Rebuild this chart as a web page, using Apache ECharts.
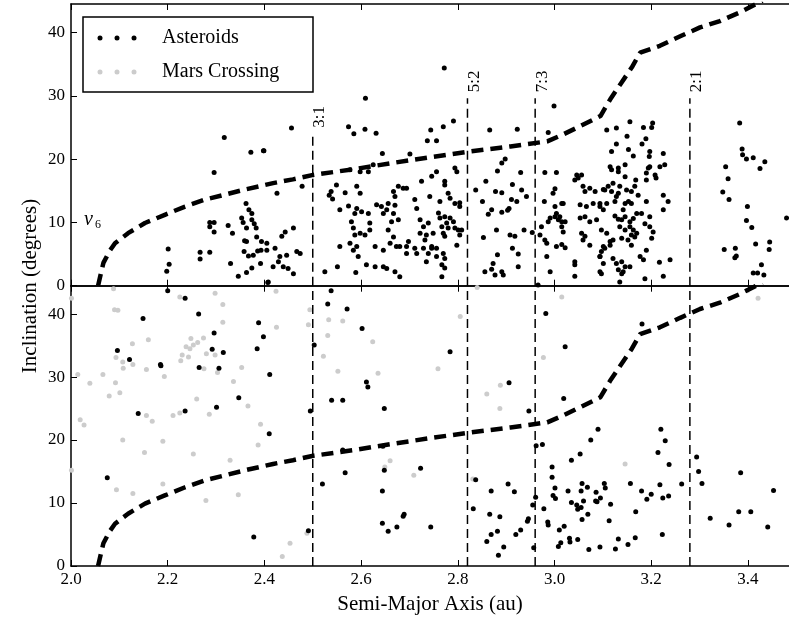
<!DOCTYPE html>
<html>
<head>
<meta charset="utf-8">
<script src="https://cdn.jsdelivr.net/npm/echarts@6/dist/echarts.min.js"></script>
<style>
  html, body { margin: 0; padding: 0; background: #fff; }
  #main { width: 789px; height: 626px; }
</style>
</head>
<body>
<div id="main"></div>
<script>
// semi-major axis (au), inclination (deg)
var topAsteroids = [
  [2.317,23.4],[2.372,21.1],[2.398,21.3],[2.296,17.9],[2.362,13.0],[2.368,12.0],[2.374,11.4],[2.353,10.7],[2.356,10.0],[2.374,10.4],
  [2.379,9.8],[2.363,9.1],[2.383,9.1],[2.384,7.7],[2.359,7.1],[2.363,7.0],[2.405,6.7],[2.358,5.4],[2.367,4.7],[2.377,4.8],
  [2.386,5.5],[2.393,5.6],[2.392,3.5],[2.374,2.8],[2.363,2.1],[2.346,1.5],[2.330,3.5],[2.287,10.0],[2.296,10.0],[2.296,8.5],
  [2.287,9.3],[2.325,9.5],[2.334,8.3],[2.267,5.3],[2.267,4.2],[2.287,5.3],[2.201,5.8],[2.203,3.4],[2.198,2.3],[2.407,0.5],
  [2.609,29.6],[2.456,24.9],[2.574,25.1],[2.585,24.0],[2.608,24.7],[2.631,24.1],[2.399,21.3],[2.644,20.9],[2.701,20.8],[2.744,24.6],
  [2.737,22.9],[2.598,18.0],[2.615,18.0],[2.625,19.1],[2.577,18.3],[2.478,15.7],[2.426,14.6],[2.538,14.9],[2.549,15.9],[2.534,14.3],
  [2.541,13.7],[2.567,14.7],[2.591,15.7],[2.598,14.6],[2.556,12.0],[2.574,12.6],[2.591,12.2],[2.587,11.4],[2.580,10.1],[2.601,11.7],
  [2.615,11.4],[2.584,9.1],[2.587,8.0],[2.598,8.3],[2.608,8.0],[2.618,9.9],[2.618,8.8],[2.556,6.2],[2.577,6.7],[2.584,5.6],
  [2.594,4.6],[2.591,6.2],[2.551,3.0],[2.525,2.2],[2.589,2.1],[2.611,3.3],[2.629,3.0],[2.646,3.0],[2.653,2.7],[2.670,2.2],
  [2.680,1.4],[2.629,6.2],[2.646,5.6],[2.632,12.8],[2.642,12.5],[2.653,12.0],[2.646,11.4],[2.656,13.0],[2.667,11.4],[2.670,12.7],
  [2.663,10.1],[2.677,10.4],[2.667,14.9],[2.670,14.1],[2.677,15.7],[2.687,15.4],[2.694,15.4],[2.656,8.8],[2.667,7.7],[2.660,6.7],
  [2.673,6.2],[2.680,6.2],[2.694,6.2],[2.698,7.0],[2.694,5.1],[2.711,13.6],[2.715,12.2],[2.725,16.5],[2.746,17.3],[2.742,14.1],
  [2.722,10.4],[2.729,9.3],[2.739,9.9],[2.722,8.3],[2.735,8.0],[2.732,7.2],[2.729,5.9],[2.739,5.1],[2.735,3.8],[2.746,5.9],
  [2.711,5.9],[2.715,5.1],[2.394,7.0],[2.422,5.9],[2.436,7.8],[2.443,8.5],[2.460,9.1],[2.432,4.6],[2.446,4.8],[2.429,3.8],
  [2.418,3.0],[2.439,3.0],[2.449,2.7],[2.460,1.9],[2.467,5.4],[2.474,5.1],[2.405,5.6],[2.408,0.6],
  [2.772,34.4],[2.999,28.4],[2.791,26.0],[2.770,25.1],[2.866,24.6],[2.923,24.7],[2.756,22.9],[2.987,24.2],[2.898,20.0],[2.891,19.4],
  [2.882,18.1],[2.794,18.6],[2.798,18.0],[2.756,18.0],[2.773,16.5],[2.773,15.9],[2.930,17.9],[2.858,16.5],[2.837,15.1],[2.878,14.9],
  [2.891,14.7],[2.913,16.0],[2.932,15.1],[2.942,14.1],[2.911,13.6],[2.922,13.3],[2.851,13.3],[2.870,12.0],[2.863,11.3],[2.906,12.2],
  [2.903,11.9],[2.891,11.6],[2.780,14.6],[2.784,13.8],[2.794,13.0],[2.804,13.1],[2.804,12.5],[2.763,13.3],[2.760,11.5],[2.763,10.7],
  [2.773,10.9],[2.784,10.7],[2.791,10.1],[2.777,9.9],[2.767,9.3],[2.780,9.1],[2.794,9.1],[2.801,8.8],[2.808,8.8],[2.804,8.0],
  [2.798,6.4],[2.770,8.3],[2.773,7.8],[2.749,8.3],[2.746,6.2],[2.756,5.9],[2.770,5.1],[2.773,4.3],[2.767,3.3],[2.773,2.8],
  [2.767,1.4],[2.756,4.6],[2.853,7.6],[2.880,8.8],[2.908,8.0],[2.918,7.8],[2.913,5.9],[2.937,8.8],[2.954,8.4],[2.882,4.9],
  [2.925,5.0],[2.925,3.0],[2.873,3.5],[2.870,2.6],[2.877,1.7],[2.856,2.2],[2.891,2.2],[2.894,1.7],[2.966,0.1],[2.980,17.9],
  [3.004,17.9],[3.001,15.3],[2.997,14.6],[2.979,13.3],[3.015,13.0],[3.018,13.0],[3.001,12.5],[3.004,11.4],[3.011,10.9],[3.001,10.9],
  [2.991,10.7],[2.987,10.1],[3.008,10.4],[3.015,10.1],[3.022,10.1],[3.015,9.3],[3.018,8.5],[2.973,9.3],[2.970,8.0],[2.980,7.2],
  [2.984,6.7],[3.004,6.2],[3.015,6.5],[3.022,6.0],[2.984,4.6],[2.991,2.2],[3.042,16.7],[3.049,17.0],[3.046,17.5],[3.056,17.5],
  [3.059,15.7],[3.063,14.9],[3.073,15.4],[3.084,14.9],[3.101,15.2],[3.053,12.8],[3.066,12.5],[3.080,13.0],[3.053,10.7],[3.063,10.9],
  [3.073,10.1],[3.087,10.4],[3.056,8.3],[3.063,7.8],[3.059,7.2],[3.073,6.4],[3.042,3.8],[3.042,3.3],[3.042,1.5],[3.094,4.6],
  [3.094,2.2],[3.097,1.9],[3.101,6.2],[3.097,5.4],[3.094,12.5],[3.101,12.0],
  [3.383,25.7],[3.388,21.6],[3.389,20.7],[3.397,20.0],[3.411,20.2],[3.435,19.6],[3.425,18.5],[3.354,18.8],[3.359,16.9],[3.348,14.8],
  [3.361,13.6],[3.480,10.7],[3.399,12.5],[3.397,10.3],[3.408,9.2],[3.416,6.6],[3.445,6.9],[3.444,5.7],[3.351,5.7],[3.374,5.9],
  [3.376,4.7],[3.373,4.4],[3.428,3.3],[3.411,2.0],[3.420,2.0],[3.433,1.7],[3.239,4.1],[3.225,1.5],[3.217,3.7],[3.187,1.1],
  [3.156,25.9],[3.184,25.0],[3.201,25.0],[3.203,25.7],[3.128,24.9],[3.108,24.6],[3.150,23.6],[3.181,22.4],[3.189,23.2],[3.128,22.4],
  [3.118,21.2],[3.153,21.5],[3.163,20.5],[3.197,21.2],[3.196,20.4],[3.225,20.9],[3.115,18.8],[3.118,18.3],[3.132,18.6],[3.132,18.0],
  [3.146,19.1],[3.146,17.2],[3.194,18.6],[3.197,18.8],[3.190,17.8],[3.190,16.7],[3.208,17.5],[3.210,17.0],[3.218,18.8],[3.228,19.1],
  [3.104,15.1],[3.111,15.7],[3.121,16.2],[3.118,14.9],[3.132,14.6],[3.135,15.7],[3.149,15.1],[3.159,14.9],[3.168,16.7],[3.166,15.7],
  [3.173,14.3],[3.094,13.0],[3.108,13.0],[3.125,13.3],[3.128,14.1],[3.146,13.0],[3.153,13.3],[3.159,13.0],[3.142,12.0],[3.190,13.3],
  [3.225,14.3],[3.235,13.3],[3.225,12.0],[3.125,11.0],[3.132,10.5],[3.139,10.4],[3.146,10.9],[3.156,10.1],[3.163,10.6],[3.170,11.4],
  [3.180,11.4],[3.197,10.9],[3.097,8.8],[3.108,8.3],[3.135,9.3],[3.146,8.8],[3.156,9.3],[3.163,8.8],[3.170,8.3],[3.187,9.8],
  [3.197,9.3],[3.204,8.5],[3.201,7.5],[3.139,7.5],[3.152,7.2],[3.159,8.0],[3.166,7.7],[3.159,6.4],[3.104,5.9],[3.115,7.0],
  [3.121,7.2],[3.115,6.4],[3.094,4.6],[3.101,3.5],[3.121,4.3],[3.128,3.5],[3.139,3.8],[3.132,2.5],[3.142,2.2],[3.146,3.0],
  [3.139,1.9],[3.156,3.0],[3.135,0.6],[3.177,4.6],[3.184,4.1],[3.190,5.6]
];

var bottomAsteroids = [
  [2.200,43.7],[2.236,42.5],[2.264,40.0],[2.149,39.3],[2.296,37.0],[2.096,34.2],[2.121,32.8],[2.185,32.0],[2.186,31.8],[2.265,31.5],
  [2.292,34.4],[2.315,33.9],[2.306,31.4],[2.388,38.6],[2.398,36.4],[2.385,34.5],[2.411,30.4],[2.347,26.7],[2.301,25.2],[2.236,24.6],
  [2.139,24.2],[2.410,21.0],[2.075,14.0],[2.378,4.6],[2.491,5.6],[2.495,24.6],[2.503,35.1],[2.538,43.7],[2.531,41.6],[2.571,40.8],
  [2.602,37.7],[2.611,29.2],[2.614,28.4],[2.539,26.3],[2.562,26.3],[2.648,25.0],[2.562,18.4],[2.645,19.0],[2.648,15.2],[2.723,15.5],
  [2.567,14.8],[2.520,13.0],[2.644,11.9],[2.689,8.2],[2.687,7.9],[2.644,6.8],[2.656,5.5],[2.674,6.2],[2.744,6.2],
  [2.982,40.1],[3.022,34.8],[2.784,34.0],[2.906,29.1],[3.019,26.6],[2.947,24.6],[3.181,38.4],[3.090,21.7],[3.075,20.0],[2.962,19.1],
  [2.975,19.3],[3.220,21.7],[3.229,19.9],[3.214,18.0],[3.237,16.1],[3.053,17.8],[3.035,16.8],[2.995,15.7],[2.995,14.1],[3.001,12.4],
  [2.997,11.2],[3.002,10.7],[2.837,13.7],[2.869,11.9],[2.904,13.0],[2.917,11.8],[2.832,9.1],[2.866,8.2],[2.887,7.8],[2.869,5.0],
  [2.882,5.5],[2.860,3.9],[2.895,3.0],[2.884,1.7],[2.920,5.0],[2.930,5.7],[2.944,7.1],[2.946,7.5],[2.955,9.7],[2.961,10.9],
  [2.978,9.1],[2.986,7.0],[2.987,6.5],[2.957,2.9],[3.020,6.3],[3.010,5.7],[3.031,4.4],[3.032,3.8],[3.008,3.1],[3.013,3.7],
  [3.048,4.2],[3.028,11.9],[3.035,10.1],[3.046,9.7],[3.055,9.3],[3.048,9.0],[3.057,7.4],[3.069,8.2],[3.055,11.9],[3.060,10.3],
  [3.057,13.1],[3.068,12.5],[3.086,11.7],[3.085,10.3],[3.088,10.2],[3.095,10.8],[3.105,12.4],[3.103,13.1],[3.116,9.8],[3.113,7.2],
  [3.071,2.6],[3.094,3.0],[3.126,2.7],[3.132,4.3],[3.152,3.4],[3.167,4.5],[3.168,8.6],[3.157,13.1],[3.180,11.9],[3.191,10.6],
  [3.200,11.4],[3.218,12.9],[3.224,10.8],[3.236,11.1],[3.263,13.0],[3.223,5.0],[3.294,17.3],[3.298,15.0],[3.305,13.1],[3.322,7.6],
  [3.361,6.5],[3.381,8.6],[3.406,8.6],[3.385,14.8],[3.441,6.2],[3.453,12.0]
];

var bottomMarsCrossing = [
  [2.088,44.0],[2.225,42.7],[2.298,43.3],[2.424,43.6],[2.314,41.5],[2.090,40.7],[2.097,40.6],[2.494,40.7],[2.491,38.3],[2.425,37.9],
  [2.314,38.7],[2.533,39.1],[2.562,38.9],[2.531,36.6],[2.624,35.6],[2.160,35.9],[2.127,35.3],[2.248,36.1],[2.262,35.5],[2.274,36.2],
  [2.253,35.1],[2.238,34.8],[2.246,34.5],[2.230,33.5],[2.243,33.2],[2.280,33.7],[2.298,33.5],[2.227,32.6],[2.093,33.1],[2.107,32.4],
  [2.128,32.0],[2.108,31.4],[2.156,31.2],[2.275,31.3],[2.303,30.7],[2.353,31.5],[2.193,30.1],[2.014,30.4],[2.066,30.4],[2.001,42.5],
  [2.039,29.0],[2.092,29.1],[2.101,27.5],[2.079,27.0],[2.336,29.3],[2.260,26.5],[2.366,25.4],[2.211,23.9],[2.225,24.3],[2.156,23.9],
  [2.168,23.0],[2.286,24.1],[2.019,23.2],[2.027,22.4],[2.392,22.5],[2.107,20.0],[2.190,19.8],[2.387,19.2],[2.152,18.0],[2.253,17.8],
  [2.329,16.8],[2.001,15.2],[2.660,16.7],[2.649,15.7],[2.709,14.4],[2.094,12.1],[2.190,13.0],[2.128,11.5],[2.346,11.3],[2.279,10.4],
  [2.488,5.2],[2.453,3.6],[2.437,1.5],[2.635,30.6],[2.552,30.9],[2.522,33.3],
  [2.840,44.2],[3.015,42.7],[3.421,42.5],[3.399,43.7],[2.805,39.6],[2.759,31.3],[2.977,33.1],[2.860,27.3],[2.888,28.7],[2.887,25.0],
  [3.146,16.2],[2.831,13.8]
];

// nu6 secular resonance
var nu6Curve = [
  [2.056,0],[2.062,2.0],[2.067,3.6],[2.080,5.5],[2.091,6.7],[2.118,8.3],[2.153,9.9],[2.194,11.2],[2.236,12.5],[2.277,13.6],
  [2.319,14.4],[2.360,15.2],[2.418,16.2],[2.459,16.8],[2.501,17.5],[2.584,18.4],[2.666,19.4],[2.743,20.3],[2.826,21.2],[2.909,22.0],
  [2.985,22.8],[3.018,23.9],[3.053,25.2],[3.095,26.8],[3.115,29.4],[3.136,31.8],[3.160,34.5],[3.177,36.8],[3.218,37.9],[3.260,39.4],
  [3.301,40.8],[3.342,41.8],[3.384,43.2],[3.430,45.0]
];

var resonanceA = [2.50, 2.82, 2.96, 3.28];
var resonanceLabels = ['3:1', '5:2', '7:3', '2:1'];
var resonanceTop = [24.0, 29.6, 29.6, 29.6];

var xMin = 2.0, xMax = 3.485, yMax = 44.5;
var serif = '"Liberation Serif", "DejaVu Serif", serif';

var chart = echarts.init(document.getElementById('main'));

function xAxisFor(grid, pos, labels) {
  return {
    type: 'value', gridIndex: grid, position: pos, min: xMin, max: xMax, interval: 0.2,
    axisLine: { onZero: false, lineStyle: { color: '#000', width: 1.5 } },
    axisTick: { inside: true, length: 6, lineStyle: { color: '#000', width: 1 } },
    axisLabel: {
      show: labels, showMaxLabel: false, margin: 5,
      color: '#000', fontFamily: serif, fontSize: 17,
      formatter: function (v) { return v.toFixed(1); }
    },
    splitLine: { show: false }
  };
}

function yAxisFor(grid) {
  return {
    type: 'value', gridIndex: grid, min: 0, max: yMax, interval: 10,
    axisLine: { show: true, onZero: false, lineStyle: { color: '#000', width: 1.5 } },
    axisTick: { show: true, inside: true, length: 6, lineStyle: { color: '#000', width: 1 } },
    axisLabel: { showMaxLabel: false, margin: 6, color: '#000', fontFamily: serif, fontSize: 17 },
    splitLine: { show: false }
  };
}

var xBottom = xAxisFor(1, 'bottom', true);
xBottom.name = 'Semi-Major Axis (au)';
xBottom.nameLocation = 'middle';
xBottom.nameGap = 28;
xBottom.nameTextStyle = { color: '#000', fontFamily: serif, fontSize: 21 };

var series = [];

series.push({
  type: 'scatter', xAxisIndex: 0, yAxisIndex: 0, data: topAsteroids,
  symbolSize: 5, itemStyle: { color: '#000', opacity: 1 }, silent: true
});
series.push({
  type: 'scatter', xAxisIndex: 2, yAxisIndex: 1, data: bottomMarsCrossing,
  symbolSize: 5, itemStyle: { color: '#cccccc', opacity: 1 }, silent: true
});
series.push({
  type: 'scatter', xAxisIndex: 2, yAxisIndex: 1, data: bottomAsteroids,
  symbolSize: 5, itemStyle: { color: '#000', opacity: 1 }, silent: true
});

[[0, 0], [2, 1]].forEach(function (ax) {
  series.push({
    type: 'line', xAxisIndex: ax[0], yAxisIndex: ax[1], data: nu6Curve,
    symbol: 'none', silent: true, clip: true,
    lineStyle: { color: '#000', width: 4.5, type: [12, 7] }
  });
});

resonanceA.forEach(function (a, k) {
  series.push({
    type: 'line', xAxisIndex: 0, yAxisIndex: 0, data: [[a, 0], [a, resonanceTop[k]]],
    symbol: 'none', silent: true,
    lineStyle: { color: '#000', width: 1.5, type: [9, 5] }
  });
  series.push({
    type: 'line', xAxisIndex: 2, yAxisIndex: 1, data: [[a, 0], [a, yMax]],
    symbol: 'none', silent: true,
    lineStyle: { color: '#000', width: 1.5, type: [9, 5] }
  });
});

var option = {
  animation: false,
  backgroundColor: '#fff',
  grid: [
    { left: 71, top: 4, width: 718, height: 281.7 },
    { left: 71, top: 285.7, width: 718, height: 280.3 }
  ],
  xAxis: [
    xAxisFor(0, 'bottom', false),
    xAxisFor(0, 'top', false),
    xBottom,
    xAxisFor(1, 'top', false)
  ],
  yAxis: [yAxisFor(0), yAxisFor(1)],
  series: series
};

chart.setOption(option);

// legend, titles and labels
var graphics = [
  { type: 'rect', shape: { x: 83, y: 17, width: 230, height: 75 },
    style: { fill: '#fff', stroke: '#000', lineWidth: 1.5 }, z: 100 },
  { type: 'text', x: 162, y: 38, z: 101,
    style: { text: 'Asteroids', font: '20px ' + serif, fill: '#000', verticalAlign: 'middle' } },
  { type: 'text', x: 162, y: 72, z: 101,
    style: { text: 'Mars Crossing', font: '20px ' + serif, fill: '#000', verticalAlign: 'middle' } },
  { type: 'text', x: 30, y: 286, rotation: Math.PI / 2,
    style: { text: 'Inclination (degrees)', font: '21px ' + serif, fill: '#000', align: 'center', verticalAlign: 'middle' } },
  { type: 'text', x: 84, y: 220,
    style: { text: 'ν', font: 'italic 20px ' + serif, fill: '#000', verticalAlign: 'middle' } },
  { type: 'text', x: 95, y: 225,
    style: { text: '6', font: '12px ' + serif, fill: '#000', verticalAlign: 'middle' } }
];
[100, 117, 134].forEach(function (cx) {
  graphics.push({ type: 'circle', shape: { cx: cx, cy: 38, r: 2.5 }, style: { fill: '#000' }, z: 101 });
  graphics.push({ type: 'circle', shape: { cx: cx, cy: 72, r: 2.5 }, style: { fill: '#cccccc' }, z: 101 });
});
resonanceA.forEach(function (a, k) {
  var p = chart.convertToPixel({ xAxisIndex: 0, yAxisIndex: 0 }, [a, resonanceTop[k]]);
  graphics.push({
    type: 'text', x: p[0] + 7, y: p[1] - 6, rotation: Math.PI / 2,
    style: { text: resonanceLabels[k], font: '17px ' + serif, fill: '#000', align: 'left', verticalAlign: 'middle' }
  });
});

chart.setOption({ graphic: graphics });

window.addEventListener('resize', function () {
  chart.resize();
});
</script>
</body>
</html>
